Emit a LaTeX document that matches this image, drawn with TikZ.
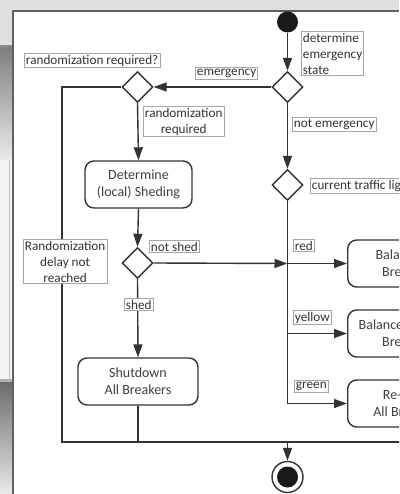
\documentclass[tikz,border=0pt]{standalone}
\usepackage{fontspec}
\setmainfont{Carlito}
\usetikzlibrary{shapes.geometric,arrows.meta}

\newcommand\lblfont{\fontsize{13.2}{16}\selectfont}
\newcommand\actfont{\fontsize{14}{17}\selectfont}
\definecolor{framegray}{HTML}{5B6166}
\definecolor{barfill}{HTML}{DFE1E1}
\definecolor{inkgray}{HTML}{333333}

\tikzset{
  flow/.style={line width=1.4pt, draw=inkgray},
  arr/.style={flow, -{Triangle[length=13pt,width=9pt]}},
  decision/.style={diamond, draw=inkgray, line width=1.4pt, fill=white,
    minimum width=31pt, minimum height=31pt, inner sep=0pt},
  activity/.style={rectangle, rounded corners=9pt, draw=inkgray, line width=1.4pt,
    fill=white, align=center, text=black!75, font=\actfont, inner sep=2pt},
  guard/.style={draw=black!35, line width=0.7pt, fill=white, inner sep=1.6pt,
    text=black!80, font=\lblfont, anchor=north west},
}

\begin{document}
\begin{tikzpicture}[x=1pt,y=-1pt]
\useasboundingbox (0,0) rectangle (399,494);
\clip (0,0) rectangle (399,494);

% window chrome around the canvas
\fill[white] (0,0) rectangle (399,494);
\fill[barfill] (0,0) rectangle (399,10);
\fill[barfill] (0,0) rectangle (12,46);
\fill[black!45] (0,45) rectangle (12,48);
\shade[top color=black!50, bottom color=black!8] (0,48) rectangle (12,160);
\fill[black!4] (0,160) rectangle (12,380);
\draw[black!25, line width=0.8pt] (9,160) -- (9,380);
\fill[black!30] (0,379) rectangle (12,382);
\shade[top color=black!58, bottom color=black!8] (0,382) rectangle (12,494);
\draw[framegray, line width=2pt] (13,494) -- (13,11) -- (399,11);

% actions and decisions
\node[circle, fill=black!90, minimum size=21pt, inner sep=0pt] (start) at (287.5,22) {};
\node[decision] (emg) at (287.5,87) {};
\node[decision] (rnd) at (137.5,87) {};
\node[activity, minimum width=107pt, minimum height=47pt] (shedact) at (138.5,184.5) {Determine\\(local) Sheding};
\node[decision] (shed) at (137.5,263) {};
\node[activity, minimum width=120pt, minimum height=47pt] (shut) at (138,381.5) {Shutdown\\All Breakers};
\node[decision] (light) at (287.5,185) {};
\node[activity, minimum width=118pt, minimum height=47pt, anchor=west] (red) at (347,263.5) {Balance All\\Breakers};
\node[activity, minimum width=118pt, minimum height=47pt, anchor=west] (yellow) at (347,333.5) {Balance Selected\\Breakers};
\node[activity, minimum width=118pt, minimum height=47pt, anchor=west] (green) at (347,403.5) {Re-close\\All Breakers};
\node[circle, draw=inkgray, line width=1.4pt, fill=white, minimum size=31pt, inner sep=0pt] (end) at (287.5,477) {};
\fill[black!90] (end.center) circle (10.5);

% junction points
\coordinate (jred) at (287.5,263.5);
\coordinate (jyel) at (287.5,333.5);
\coordinate (jgrn) at (287.5,403.5);
\coordinate (bl) at (62,442);
\coordinate (br) at (410,442);
\coordinate (bmid) at (287.5,442);

% control flow
\draw[arr] (start) -- (emg.north);
\draw[arr] (emg.west) -- (rnd.east);
\draw[arr] (rnd.south) -- (shedact.north);
\draw[arr] (shedact.south) -- (shed.north);
\draw[arr] (shed.east) -- (jred);
\draw[arr] (shed.south) -- (shut.north);
\draw[flow] (rnd.west) -| (bl) -- (br);
\draw[flow] (shut.south) -- (shut.south |- bl);
\draw[arr] (emg.south) -- (light.north);
\draw[flow] (light.south) -- (jgrn);
\draw[arr] (jred) -- (red.west);
\draw[arr] (jyel) -- (yellow.west);
\draw[arr] (jgrn) -- (green.west);
\draw[arr] (bmid) -- (end.north);

% guard labels
\node[guard, align=left] (gstate) at (301,31) {determine\\emergency\\state};
\node[guard] (gemg) at (195,67) {emergency};
\node[guard] (grndq) at (24,53) {randomization required?};
\node[guard, align=center] (grnd) at (143,106) {randomization\\required};
\node[guard] (gnotemg) at (292,117) {not emergency};
\node[guard] (glight) at (310,178) {current traffic light};
\node[guard, align=center] (gdelay) at (23,239) {Randomization\\delay not\\reached};
\node[guard] (gnotshed) at (149,240) {not shed};
\node[guard] (gshed) at (124,298) {shed};
\node[guard] (gred) at (293,239) {red};
\node[guard] (gyel) at (293,310) {yellow};
\node[guard] (ggrn) at (294,380) {green};
\end{tikzpicture}
\end{document}
